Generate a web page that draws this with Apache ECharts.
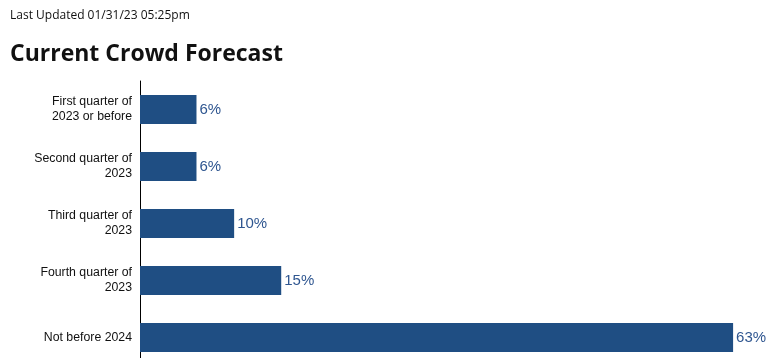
<!DOCTYPE html>
<html><head><meta charset="utf-8">
<script src="https://cdn.jsdelivr.net/npm/echarts@6/dist/echarts.min.js"></script>
<style>html,body{margin:0;padding:0;background:#fff;}#c{width:771px;height:358px;}</style>
</head><body><div id="c"></div>
<script>
const categories = ["First quarter of\n2023 or before", "Second quarter of\n2023", "Third quarter of\n2023", "Fourth quarter of\n2023", "Not before 2024"];
const values = [6, 6, 10, 15, 63];
const updatedText = "Last Updated 01/31/23 05:25pm";
const titleText = "Current Crowd Forecast";

const chart = echarts.init(document.getElementById('c'));
chart.setOption({
  animation: false,
  title: [
    {text: updatedText, left: 5, top: 5, textStyle: {fontFamily: 'Open Sans', fontSize: 12, fontWeight: 'normal', color: '#111'}},
    {text: titleText, left: 5, top: 38, textStyle: {fontFamily: 'Open Sans', fontSize: 23, fontWeight: 'bold', color: '#111'}}
  ],
  grid: {left: 140, top: 81, width: 659, height: 285, containLabel: false, outerBoundsMode: 'none'},
  xAxis: {type: 'value', min: 0, max: 70, show: false},
  yAxis: {
    type: 'category', data: categories, inverse: true,
    axisLine: {lineStyle: {color: '#000', width: 1}},
    axisTick: {length: 5, lineStyle: {color: '#000'}},
    axisLabel: {color: '#111', fontFamily: 'Liberation Sans', fontSize: 12.3, lineHeight: 15, margin: 8, align: 'right'}
  },
  series: [{
    type: 'bar', data: values, barWidth: '51%',
    itemStyle: {color: '#1f4e83'},
    label: {show: true, position: 'right', distance: 3, formatter: '{c}%', color: '#2f5690', fontFamily: 'Liberation Sans', fontSize: 15}
  }]
});
</script></body></html>
